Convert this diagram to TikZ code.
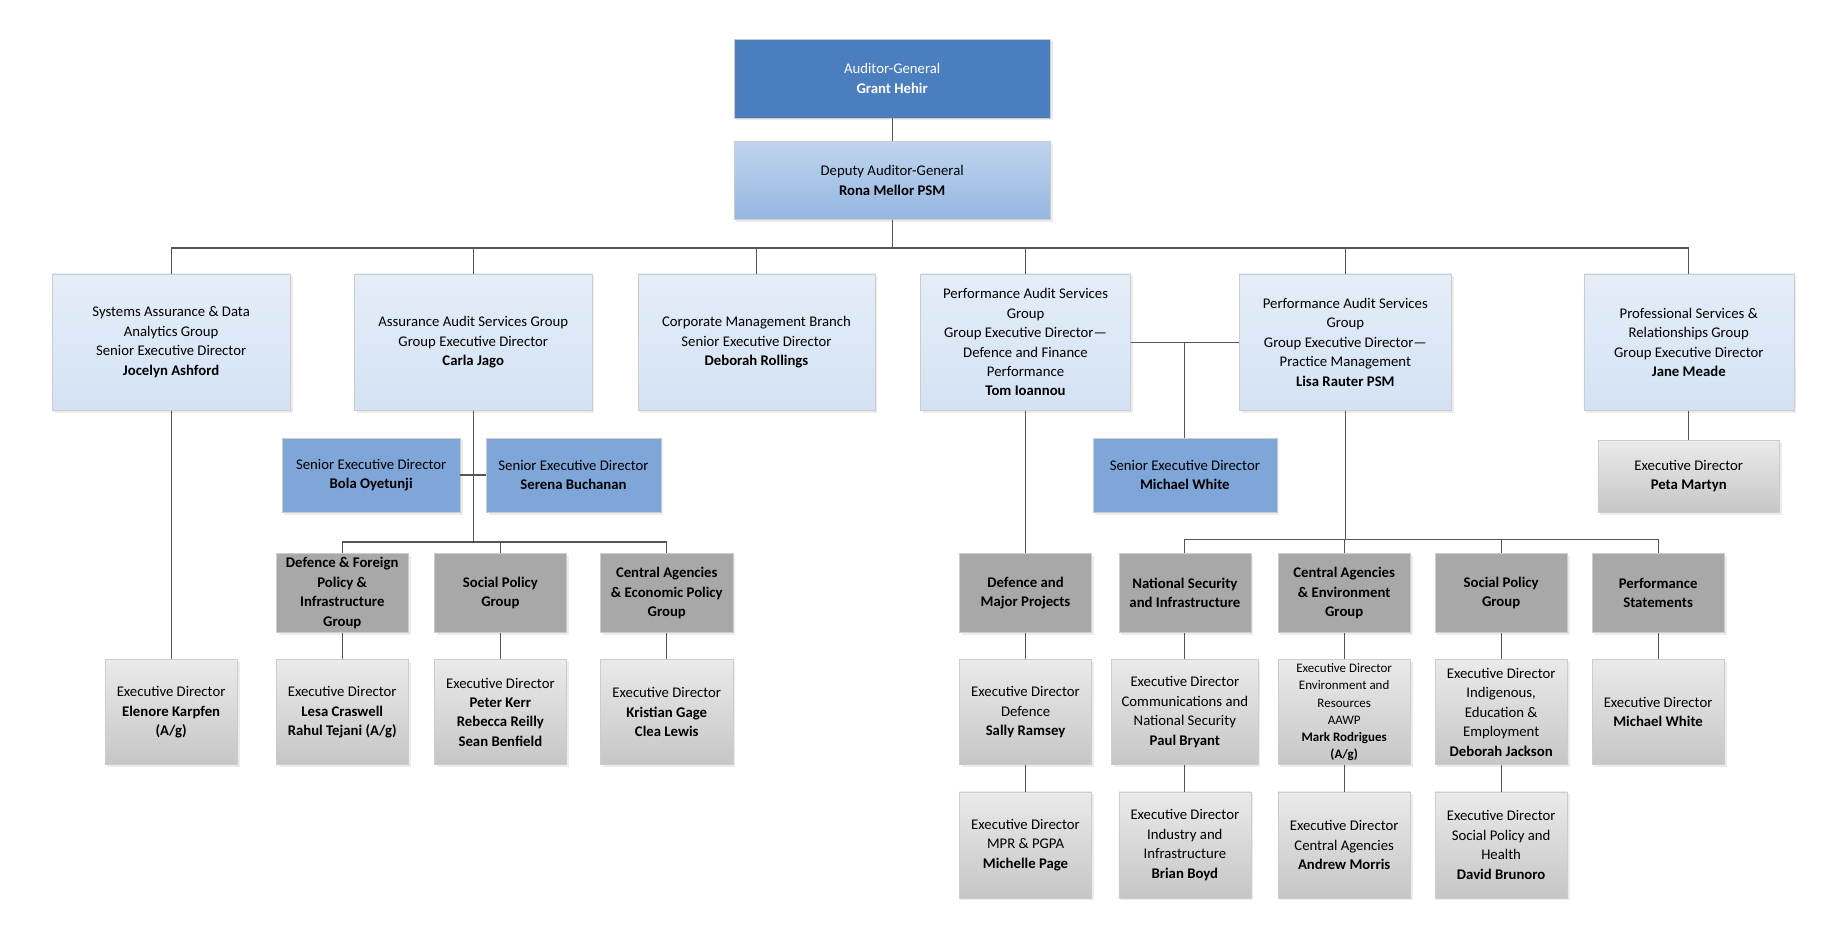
\documentclass[tikz,border=0pt]{standalone}
\usepackage{fontspec}
\setmainfont{Carlito}
\usetikzlibrary{shadows}
\definecolor{topblue}{HTML}{4A7EBF}
\definecolor{midblue}{HTML}{7EA6D8}
\definecolor{paleblue}{HTML}{D3E2F4}
\definecolor{deputyblue}{HTML}{94B6E0}
\definecolor{grpgrey}{HTML}{A8A8A8}
\definecolor{edgrey}{HTML}{DCDCDC}
\definecolor{linegrey}{HTML}{555555}
\begin{document}
\begin{tikzpicture}[x=1pt,y=-1pt,
    box/.style={draw=black!20, align=center, inner sep=2pt, font=\fontsize{12.5}{16.5}\selectfont,
      drop shadow={shadow xshift=2pt, shadow yshift=-2pt, fill=black!15}},
    top/.style={box, fill=topblue, text=white, minimum width=268pt, minimum height=67pt},
    deputy/.style={box, top color=paleblue!70!deputyblue, bottom color=deputyblue, minimum width=268pt, minimum height=66pt},
    branch/.style={box, top color=paleblue!60, bottom color=paleblue, minimum height=116pt},
    sed/.style={box, fill=midblue, minimum height=63pt},
    grp/.style={box, fill=grpgrey, minimum width=112pt, minimum height=67pt},
    ed/.style={box, top color=edgrey!60, bottom color=edgrey!90!black, minimum width=112pt, minimum height=89pt},
    conn/.style={draw=linegrey, line width=1pt}]
\useasboundingbox (0,0) rectangle (1560,794);

% Top of the chart
\node[top] (ag) at (756,66.5) {Auditor-General\\\textbf{Grant Hehir}};
\node[deputy] (dag) at (756,153) {Deputy Auditor-General\\\textbf{Rona Mellor PSM}};

% Groups and branches
\node[branch, minimum width=202pt] (sys) at (145,290) {Systems Assurance \& Data\\Analytics Group\\Senior Executive Director\\\textbf{Jocelyn Ashford}};
\node[branch, minimum width=201pt] (aas) at (401,290) {Assurance Audit Services Group\\Group Executive Director\\\textbf{Carla Jago}};
\node[branch, minimum width=201pt] (corp) at (641,290) {Corporate Management Branch\\Senior Executive Director\\\textbf{Deborah Rollings}};
\node[branch, minimum width=178pt] (pasA) at (869,290) {Performance Audit Services\\Group\\Group Executive Director---\\Defence and Finance\\Performance\\\textbf{Tom Ioannou}};
\node[branch, minimum width=180pt] (pasB) at (1140,290) {Performance Audit Services\\Group\\Group Executive Director---\\Practice Management\\\textbf{Lisa Rauter PSM}};
\node[branch, minimum width=178pt] (prof) at (1431,290) {Professional Services \&\\Relationships Group\\Group Executive Director\\\textbf{Jane Meade}};

% Senior executive directors
\node[sed, minimum width=151pt] (bola) at (314.5,402.5) {Senior Executive Director\\\textbf{Bola Oyetunji}};
\node[sed, minimum width=148pt] (serena) at (486,402.5) {Senior Executive Director\\\textbf{Serena Buchanan}};
\node[sed, minimum width=156pt] (mwhite) at (1004,402.5) {Senior Executive Director\\\textbf{Michael White}};
\node[ed, minimum width=154pt, minimum height=61pt] (peta) at (1431,403.5) {Executive Director\\\textbf{Peta Martyn}};

% Assurance groups
\node[grp] (dfp) at (290,502.5) {\textbf{Defence \& Foreign}\\\textbf{Policy \&}\\\textbf{Infrastructure}\\\textbf{Group}};
\node[grp] (asp) at (424,502.5) {\textbf{Social Policy}\\\textbf{Group}};
\node[grp] (ace) at (565,502.5) {\textbf{Central Agencies}\\\textbf{\& Economic Policy}\\\textbf{Group}};

% Performance groups
\node[grp] (dmp) at (869,502.5) {\textbf{Defence and}\\\textbf{Major Projects}};
\node[grp] (nsi) at (1004,502.5) {\textbf{National Security}\\\textbf{and Infrastructure}};
\node[grp] (cae) at (1139,502.5) {\textbf{Central Agencies}\\\textbf{\& Environment}\\\textbf{Group}};
\node[grp] (psp) at (1272,502.5) {\textbf{Social Policy}\\\textbf{Group}};
\node[grp] (pst) at (1405,502.5) {\textbf{Performance}\\\textbf{Statements}};

% Executive directors, first row
\node[ed] (elenore) at (145,603.5) {Executive Director\\\textbf{Elenore Karpfen}\\\textbf{(A/g)}};
\node[ed] (lesa) at (290,603.5) {Executive Director\\\textbf{Lesa Craswell}\\\textbf{Rahul Tejani (A/g)}};
\node[ed] (peter) at (424,603.5) {Executive Director\\\textbf{Peter Kerr}\\\textbf{Rebecca Reilly}\\\textbf{Sean Benfield}};
\node[ed] (kristian) at (565,603.5) {Executive Director\\\textbf{Kristian Gage}\\\textbf{Clea Lewis}};
\node[ed] (sally) at (869,603.5) {Executive Director\\Defence\\\textbf{Sally Ramsey}};
\node[ed, minimum width=124pt] (paul) at (1004,603.5) {Executive Director\\Communications and\\National Security\\\textbf{Paul Bryant}};
\node[ed, font=\fontsize{11}{14.5}\selectfont] (mark) at (1139,603.5) {Executive Director\\Environment and\\Resources\\AAWP\\\textbf{Mark Rodrigues}\\\textbf{(A/g)}};
\node[ed] (deborah) at (1272,603.5) {Executive Director\\Indigenous,\\Education \&\\Employment\\\textbf{Deborah Jackson}};
\node[ed] (michael) at (1405,603.5) {Executive Director\\\textbf{Michael White}};

% Executive directors, second row
\node[ed, minimum height=90pt] (michelle) at (869,716) {Executive Director\\MPR \& PGPA\\\textbf{Michelle Page}};
\node[ed, minimum height=90pt] (brian) at (1004,716) {Executive Director\\Industry and\\Infrastructure\\\textbf{Brian Boyd}};
\node[ed, minimum height=90pt] (andrew) at (1139,716) {Executive Director\\Central Agencies\\\textbf{Andrew Morris}};
\node[ed, minimum height=90pt] (david) at (1272,716) {Executive Director\\Social Policy and\\Health\\\textbf{David Brunoro}};

% Connectors
\draw[conn] (ag) -- (dag);
\foreach \n in {sys,aas,corp,pasA,pasB,prof}
    \draw[conn] (dag.south) -- ++(0,24) -| (\n.north);
\foreach \n in {dfp,asp,ace}
    \draw[conn] (aas.south) -- ++(0,111) -| (\n.north);
\draw[conn] (bola) -- (serena);
\draw[conn] (pasA) -- (pasB);
\coordinate (pasmid) at (1004,290);
\draw[conn] (pasmid) -- (mwhite);
\draw[conn] (prof) -- (peta);
\draw[conn] (sys) -- (elenore);
\foreach \g/\e in {dfp/lesa,asp/peter,ace/kristian,dmp/sally,nsi/paul,cae/mark,psp/deborah,pst/michael,sally/michelle,paul/brian,mark/andrew,deborah/david}
    \draw[conn] (\g) -- (\e);
\draw[conn] (pasA) -- (dmp);
\foreach \n in {nsi,cae,psp,pst}
    \draw[conn] (pasB.south) -- ++(0,109) -| (\n.north);
\end{tikzpicture}
\end{document}
